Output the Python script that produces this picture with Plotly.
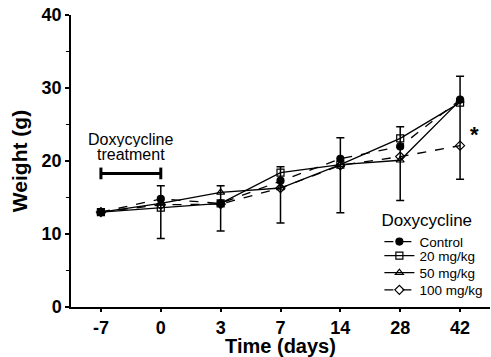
import plotly.graph_objects as go

days = ["-7", "0", "3", "7", "14", "28", "42"]
control = [13.0, 14.8, 14.2, 17.3, 20.3, 22.0, 28.4]
mg20 = [13.0, 13.6, 14.2, 18.4, 19.5, 23.1, 28.0]
mg50 = [13.0, 14.2, 15.7, 16.3, 19.5, 20.1, 28.3]
mg100 = [13.0, 14.0, 14.1, 16.3, 19.4, 20.6, 22.1]
# error bar extents (one bar per time point)
err_top = [13.3, 16.6, 16.6, 19.2, 23.2, 24.7, 31.6]
err_bottom = [12.7, 9.4, 10.4, 11.5, 12.9, 14.6, 17.5]
y_ticks = [0, 10, 20, 30, 40]

FONT = "Arial, Liberation Sans, sans-serif"

err_center = [(a + b) / 2 for a, b in zip(err_top, err_bottom)]
err_half = [(a - b) / 2 for a, b in zip(err_top, err_bottom)]

fig = go.Figure()
fig.add_trace(go.Scatter(
    x=days, y=err_center, mode="markers", marker=dict(opacity=0, size=1),
    error_y=dict(type="data", array=err_half, color="black", thickness=1.5, width=4),
    showlegend=False, hoverinfo="skip"))

series = [
    ("Control", control, "circle", "dash", "legend"),
    ("20 mg/kg", mg20, "square-open", "solid", "legend2"),
    ("50 mg/kg", mg50, "triangle-up-open", "solid", "legend3"),
    ("100 mg/kg", mg100, "diamond-open", "dash", "legend4"),
]
for name, vals, sym, dash, leg in series:
    fig.add_trace(go.Scatter(
        x=days, y=vals, name=name, mode="lines+markers", legend=leg,
        line=dict(color="black", width=1.3, dash=dash),
        marker=dict(symbol=sym, size=7, color="black", line=dict(color="black", width=1.2)),
    ))

# treatment bar
fig.add_shape(type="line", xref="x", yref="y", x0=0, x1=1, y0=18.3, y1=18.3,
              line=dict(color="black", width=3))
for xv in [0, 1]:
    fig.add_shape(type="line", xref="x", yref="y", x0=xv, x1=xv, y0=17.5, y1=19.1,
                  line=dict(color="black", width=3))
fig.add_annotation(x=0.5, y=23.0, xref="x", yref="y", text="Doxycycline",
                   showarrow=False, yanchor="middle", height=16,
                   font=dict(family=FONT, size=16, color="black"))
fig.add_annotation(x=0.5, y=20.9, xref="x", yref="y", text="treatment",
                   showarrow=False, yanchor="middle", height=15,
                   font=dict(family=FONT, size=16, color="black"))
fig.add_annotation(x=6, y=23.6, xref="x", yref="y", text="<b>*</b>", xshift=14,
                   showarrow=False, font=dict(family=FONT, size=22, color="black"))

leg_common = dict(xanchor="left", font=dict(family=FONT, size=13.5, color="black"),
                  bgcolor="rgba(0,0,0,0)", itemwidth=30)
LX = 0.736
fig.update_layout(
    width=491, height=357,
    margin=dict(l=71, r=1, t=15, b=50),
    paper_bgcolor="white", plot_bgcolor="white",
    font=dict(family=FONT, color="black"),
    showlegend=True,
    legend=dict(title=dict(text="Doxycycline", font=dict(family=FONT, size=17, color="black")),
                x=LX, y=0.352, yanchor="top", **leg_common),
    legend2=dict(x=LX, y=0.175, yanchor="middle", **leg_common),
    legend3=dict(x=LX, y=0.117, yanchor="middle", **leg_common),
    legend4=dict(x=LX, y=0.058, yanchor="middle", **leg_common),
    xaxis=dict(
        type="category", categoryorder="array", categoryarray=days,
        tickvals=days, ticktext=[f"<b>{d}</b>" for d in days],
        range=[-0.5, 6.5], showline=True, linecolor="black", linewidth=2,
        ticks="outside", ticklen=3, tickwidth=1.5, tickcolor="black",
        tickfont=dict(family=FONT, size=18, color="black"),
        title=dict(text="<b>Time (days)</b>", font=dict(family=FONT, size=20, color="black"), standoff=3),
        showgrid=False, zeroline=False, fixedrange=True,
    ),
    yaxis=dict(
        range=[0, 40], tickvals=y_ticks, ticktext=[f"<b>{v}</b>" for v in y_ticks],
        showline=True, linecolor="black", linewidth=1.5,
        ticks="outside", ticklen=4, tickwidth=1.5, tickcolor="black",
        minor=dict(dtick=5, ticks="outside", ticklen=3, tickwidth=1.2, tickcolor="black", showgrid=False),
        tickfont=dict(family=FONT, size=18, color="black"),
        title=dict(text="<b>Weight (g)</b>", font=dict(family=FONT, size=21, color="black"), standoff=8),
        showgrid=False, zeroline=False, fixedrange=True,
    ),
)

fig.write_html("out.html")
